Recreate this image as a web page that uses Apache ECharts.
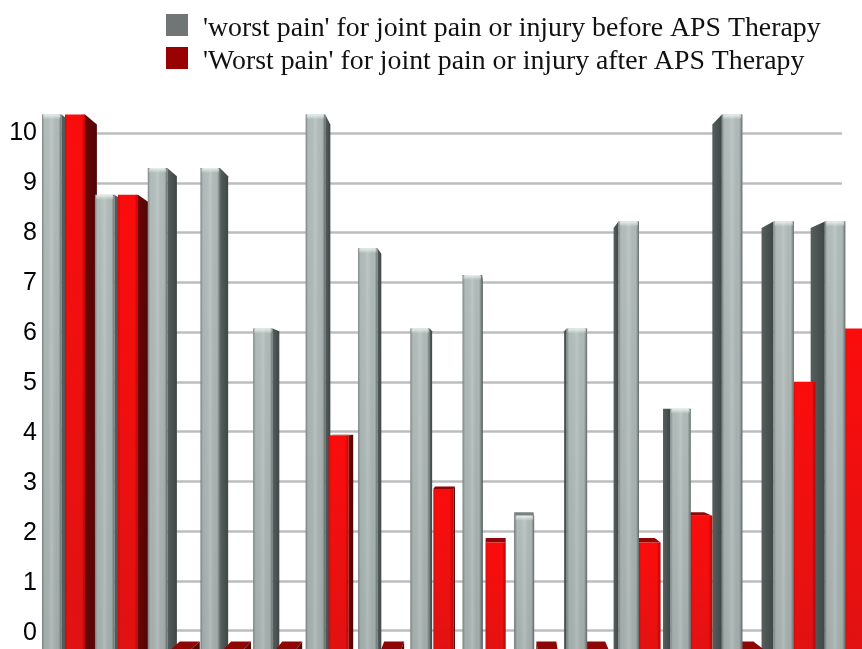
<!DOCTYPE html>
<html>
<head>
<meta charset="utf-8">
<style>html,body{margin:0;padding:0;background:#fff;overflow:hidden}#c{width:862px;height:649px}</style>
<script src="https://cdn.jsdelivr.net/npm/echarts@6/dist/echarts.min.js"></script>
</head>
<body>
<div id="c"></div>
<script>
var categories = ['1','2','3','4','5','6','7','8','9','10','11','12','13','14','15','16'];
var beforeValues = [10, 8.5, 9, 9, 6, 10, 7.5, 6, 7, 2.5, 6, 8, 4.5, 10, 8, 8];
var afterValues  = [10, 8.5, 0, 0, 0, 4, 0, 3, 2, 0, 0, 2, 2.5, 0, 5, 6];
var beforeName = "'worst pain' for joint pain or injury before APS Therapy";
var afterName  = "'Worst pain' for joint pain or injury after APS Therapy";
var axisTicks = [0,1,2,3,4,5,6,7,8,9,10];

var VANISH_X = 510;
function grad(x, y, x2, y2, stops) {
  return {type:'linear', x:x, y:y, x2:x2, y2:y2, colorStops: stops.map(function(s){return {offset:s[0], color:s[1]};})};
}
function barRenderer(isRed) {
  var P = isRed ? {
    front: grad(0,0,0,1,[[0,'#fb0c0c'],[0.5,'#ee1010'],[1,'#df1212']]),
    edge: grad(0,0,1,0,[[0,'rgba(120,0,0,0.25)'],[0.12,'rgba(120,0,0,0)'],[0.82,'rgba(90,0,0,0)'],[1,'rgba(90,0,0,0.4)']]),
    side: grad(0,0,1,0,[[0,'#6c0404'],[1,'#4f0606']]),
    top: '#8e0606', hi: 'rgba(255,60,60,0)'
  } : {
    front: grad(0,0,0,1,[[0,'#b4bebc'],[1,'#a4aeac']]),
    edge: grad(0,0,1,0,[[0,'rgba(70,80,80,0.55)'],[0.14,'rgba(120,130,130,0.05)'],[0.5,'rgba(215,225,222,0.25)'],[0.84,'rgba(90,100,100,0.05)'],[1,'rgba(50,58,58,0.65)']]),
    side: grad(0,0,1,0,[[0,'#565f5e'],[1,'#3f4746']]),
    top: '#79817f', hi: 'rgba(235,242,240,0.95)'
  };
  return function (params, api) {
    var i = api.value(0), v = api.value(1);
    var c = api.coord([i, v]);
    var band = api.size([1, 0])[0];
    var h = api.getHeight();
    var rightHalf = i >= 10;
    var bow = 0.055 * i * (15 - i);
    var g = c[0] - band / 2 + bow;
    var x0 = g + (isRed ? (rightHalf ? 20 : 23) : 0);
    var x1 = x0 + (isRed ? (rightHalf ? 22 : 20) : (rightHalf ? 20.5 : 19.5));
    var yf = c[1];
    var yb = yf + (-8 + 1.8 * v);
    var shift = rightHalf ? (VANISH_X - x0) * 0.045 : (VANISH_X - x1) * 0.028;
    var z2 = rightHalf ? 100 + 2 * (15 - i) + (isRed ? 0 : 1) : 2 * i + (isRed ? 1 : 0);
    var sx = shift >= 0 ? x1 : x0;
    var children = [];
    children.push({type:'polygon', z2:z2, shape:{points:[[sx,yf],[sx+shift,yb],[sx+shift,h+20],[sx,h+20]]}, style:{fill:P.side}});
    if (yb < yf) {
      children.push({type:'polygon', z2:z2, shape:{points:[[x0,yf],[x1,yf],[x1+shift,yb],[x0+shift,yb]]}, style:{fill:P.top}});
    }
    if (h - yf > 0) {
      children.push({type:'rect', z2:z2+0.1, shape:{x:x0,y:yf,width:x1-x0,height:h+20-yf}, style:{fill:P.front}});
      children.push({type:'rect', z2:z2+0.2, shape:{x:x0,y:yf,width:x1-x0,height:h+20-yf}, style:{fill:P.edge}});
      if (!isRed) {
        children.push({type:'rect', z2:z2+0.3, shape:{x:x0+1,y:yf,width:x1-x0-2,height:5,r:[2,2,0,0]},
          style:{fill:grad(0,0,0,1,[[0,P.hi],[1,'rgba(235,242,240,0)']])}});
      }
    }
    return {type:'group', children:children};
  };
}
function toData(values){ return values.map(function(v,i){ return [i, v]; }); }

var chart = echarts.init(document.getElementById('c'), null, {renderer:'canvas'});
chart.setOption({
  animation:false,
  backgroundColor:'#ffffff',
  color:['#6f7675','#990000'],
  legend:{
    orient:'vertical', left:166, top:14, padding:0, itemWidth:22, itemHeight:22, itemGap:4,
    icon:'rect', selectedMode:false,
    formatter:function(n){ return '{a|' + n + '}'; },
    textStyle:{fontFamily:'Liberation Serif', fontSize:27.8, color:'#111', padding:[0,0,0,10],
      rich:{a:{fontFamily:'Liberation Serif', fontSize:27.8, color:'#111', lineHeight:36, verticalAlign:'bottom'}}},
    data:[beforeName, afterName]
  },
  grid:[
    {left:42, right:20, top:133, bottom:18.5, outerBoundsMode:'none'},
    {left:42, width:835, top:114.5, height:535, outerBoundsMode:'none'},
    {left:42, right:20, top:133, bottom:16, outerBoundsMode:'none'}
  ],
  xAxis:[
    {gridIndex:0, type:'category', data:categories, show:false},
    {gridIndex:1, type:'category', data:categories, show:false},
    {gridIndex:2, type:'category', data:categories, show:false}
  ],
  yAxis:[
    {gridIndex:0, type:'value', min:0, max:10, interval:1,
     axisLine:{show:false}, axisTick:{show:false}, axisLabel:{show:false},
     splitLine:{show:true, lineStyle:{color:'#bcbebe', width:2.5}}},
    {gridIndex:1, type:'value', min:0, max:10, show:false, splitLine:{show:false}},
    {gridIndex:2, type:'value', min:0, max:10, interval:1,
     axisLine:{show:false}, axisTick:{show:false}, splitLine:{show:false},
     axisLabel:{margin:5, fontFamily:'Liberation Sans', fontSize:25, color:'#000',
       formatter:function(v){ return axisTicks.indexOf(v) >= 0 ? String(v) : ''; }}}
  ],
  series:[
    {name:beforeName, type:'custom', xAxisIndex:1, yAxisIndex:1, data:toData(beforeValues), renderItem:barRenderer(false), itemStyle:{color:'#6f7675'}, encode:{x:0,y:1}, clip:false, silent:true},
    {name:afterName, type:'custom', xAxisIndex:1, yAxisIndex:1, data:toData(afterValues), renderItem:barRenderer(true), itemStyle:{color:'#990000'}, encode:{x:0,y:1}, clip:false, silent:true}
  ]
});
</script>
</body>
</html>
